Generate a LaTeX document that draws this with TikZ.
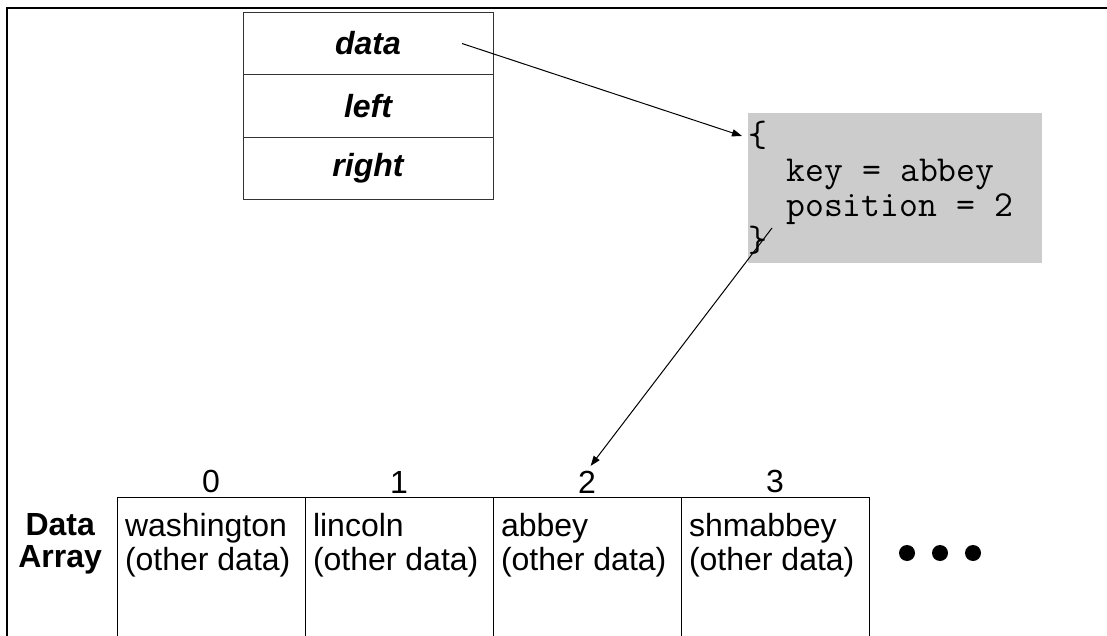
\documentclass[tikz,border=0pt]{standalone}
\usepackage{fontspec}
\setmainfont{Liberation Sans}
\usetikzlibrary{positioning,arrows.meta}
\tikzset{every node/.style={inner sep=0pt, outer sep=0pt}}
\newcommand\tsp{\hspace*{9.6pt}}

\begin{document}
\begin{tikzpicture}[x=0.5pt, y=-0.5pt, font=\fontsize{16}{17}\selectfont,
	field/.style={draw=black!80, line width=0.5pt, minimum width=125pt, minimum height=31.25pt,
		font=\fontsize{16}{17}\selectfont\bfseries\itshape},
	slot/.style={minimum width=94pt, minimum height=69.5pt, anchor=north west},
	ptr/.style={line width=0.5pt, -{Triangle[length=5pt,width=3.6pt]}}]
	\useasboundingbox (0,0) rectangle (1107,636);
	%frame
	\draw[line width=1.1pt] (7,636) -- (7,8) -- (1107,8);
	%tree node
	\node[field] (datafld) at (368,43.5) {data};
	\node[field, below=0pt of datafld] (leftfld) {left};
	\node[field, below=0pt of leftfld] (rightfld) {right};
	%record
	\node[fill=gray!40, minimum height=75pt, text width=147pt, align=left, anchor=north west,
		font=\fontsize{18.3}{17.5}\selectfont\ttfamily] (rec) at (748,113)
	{\{\\\tsp\tsp key\tsp=\tsp abbey\\\tsp\tsp position\tsp=\tsp 2\\\}};
	%array
	\foreach \i/\x/\name in {0/117/washington, 1/305/lincoln, 2/493/abbey, 3/681/shmabbey}{
		\node[slot] (cell\i) at (\x,497) {};
		\draw[line width=0.5pt] (cell\i.south west) -- (cell\i.north west) -- (cell\i.north east) -- (cell\i.south east);
		\node[anchor=south] (idx\i) at ([yshift=2pt]cell\i.north) {\i};
		\node[anchor=north west, align=left] (txt\i) at ([shift={(4pt,-8pt)}]cell\i.north west) {\name\\(other data)};
	}
	\node[anchor=north east, align=center, font=\fontsize{16}{16}\selectfont\bfseries] (arrlbl)
		at ([xshift=-11.5pt]txt0.north west) {Data\\Array};
	%more cells
	\foreach \x in {907,940,973}
	\fill (\x,553) circle (4pt);
	%pointers
	\coordinate (dataptr) at ([xshift=47pt]datafld.center);
	\coordinate (recin) at ([shift={(-3pt,-11.5pt)}]rec.north west);
	\coordinate (recout) at ([shift={(12pt,-57.5pt)}]rec.north west);
	\draw[ptr] (dataptr) -- (recin);
	\draw[ptr, shorten >=3pt] (recout) -- (idx2.north);
\end{tikzpicture}
\end{document}
